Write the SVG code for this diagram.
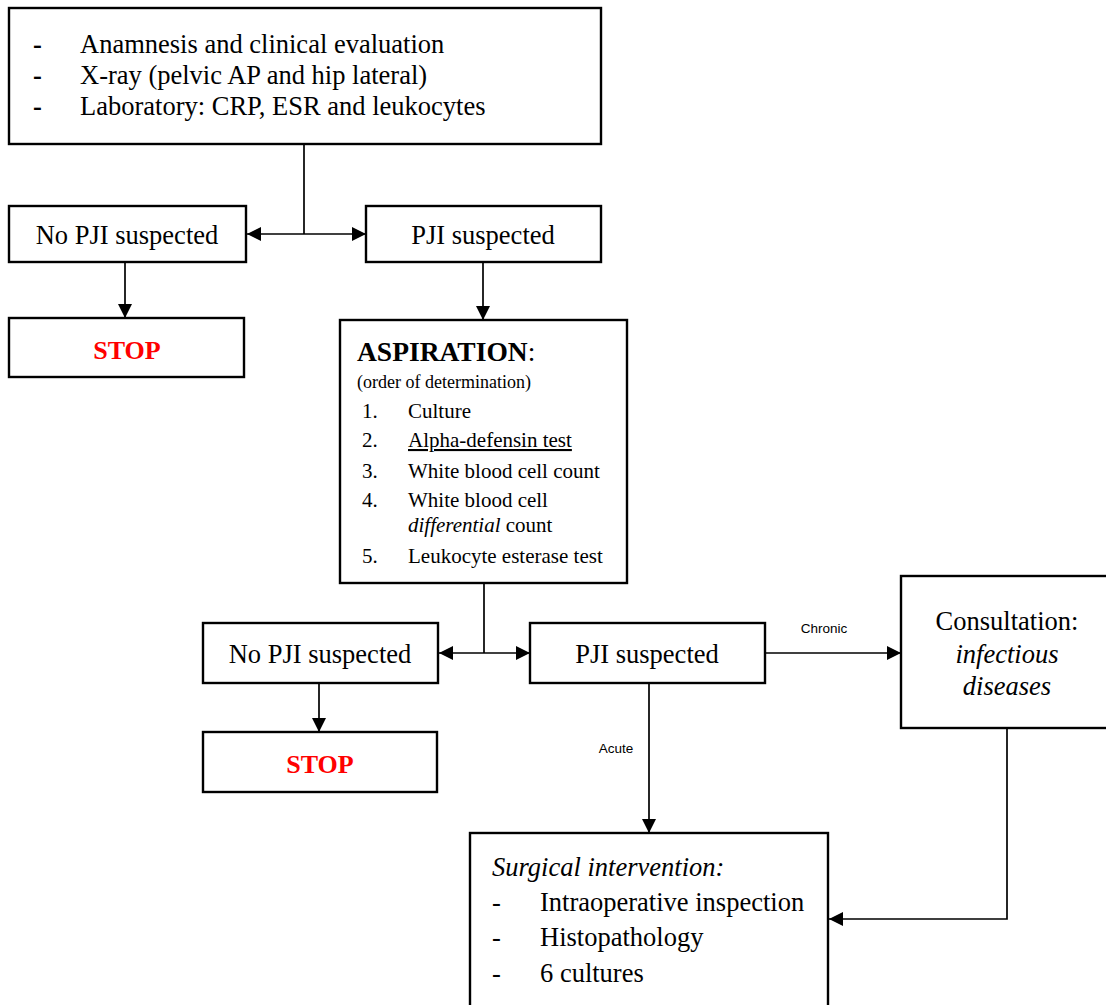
<svg xmlns="http://www.w3.org/2000/svg" width="1106" height="1005" viewBox="0 0 1106 1005">
<style>
.box{fill:#fff;stroke:#000;stroke-width:2.4}
.t{font-family:"Liberation Serif","Times New Roman",serif;fill:#000}
.big{font-size:26.5px}
.mid{font-size:21px}
.sm{font-size:18px}
.dash{font-size:26.5px;font-weight:bold}
.stop{font-size:26px;font-weight:bold;fill:#ff0000}
.lbl{font-family:"Liberation Sans",Arial,sans-serif;font-size:13.5px;fill:#000}
.c{fill:none;stroke:#000;stroke-width:1.7}
</style>
<defs>
<marker id="ah" viewBox="0 0 14 14" refX="14" refY="7" markerWidth="14" markerHeight="14" markerUnits="userSpaceOnUse" orient="auto">
<path d="M0,0 L14,7 L0,14 Z" fill="#000"/>
</marker>
</defs>
<g id="connectors">
<path class="c" d="M304,144 V234"/>
<path class="c" d="M304,234 H247" marker-end="url(#ah)"/>
<path class="c" d="M304,234 H366" marker-end="url(#ah)"/>
<path class="c" d="M125,262 V318" marker-end="url(#ah)"/>
<path class="c" d="M483,262 V320" marker-end="url(#ah)"/>
<path class="c" d="M484,583 V653"/>
<path class="c" d="M484,653 H439" marker-end="url(#ah)"/>
<path class="c" d="M484,653 H530" marker-end="url(#ah)"/>
<path class="c" d="M319,683 V732" marker-end="url(#ah)"/>
<path class="c" d="M765,653 H901" marker-end="url(#ah)"/>
<path class="c" d="M649,683 V833" marker-end="url(#ah)"/>
<path class="c" d="M1007,728 V919 H829" marker-end="url(#ah)"/>
<text class="lbl" x="824" y="633" text-anchor="middle">Chronic</text>
<text class="lbl" x="616" y="753" text-anchor="middle">Acute</text>
</g>
<g id="initial">
<rect class="box" x="9" y="8" width="592" height="136"/>
<text class="t dash" x="33" y="53">-</text>
<text class="t dash" x="33" y="84">-</text>
<text class="t dash" x="33" y="115">-</text>
<text class="t big" x="80" y="53">Anamnesis and clinical evaluation</text>
<text class="t big" x="80" y="84">X-ray (pelvic AP and hip lateral)</text>
<text class="t big" x="80" y="115">Laboratory: CRP, ESR and leukocytes</text>
</g>
<g id="nopji1">
<rect class="box" x="9" y="206" width="237" height="56"/>
<text class="t big" x="127" y="244" text-anchor="middle">No PJI suspected</text>
</g>
<g id="pji1">
<rect class="box" x="366" y="206" width="235" height="56"/>
<text class="t big" x="483" y="244" text-anchor="middle">PJI suspected</text>
</g>
<g id="stop1">
<rect class="box" x="9" y="318" width="235" height="59"/>
<text class="t stop" x="127" y="359" text-anchor="middle">STOP</text>
</g>
<g id="aspiration">
<rect class="box" x="340" y="320" width="287" height="263"/>
<text class="t" x="357" y="361" font-size="27.5" font-weight="bold">ASPIRATION<tspan font-weight="normal">:</tspan></text>
<text class="t sm" x="357" y="388">(order of determination)</text>
<text class="t mid" x="362" y="418">1.</text>
<text class="t mid" x="408" y="418">Culture</text>
<text class="t mid" x="362" y="447">2.</text>
<text class="t mid" x="408" y="447" text-decoration="underline">Alpha-defensin test</text>
<text class="t mid" x="362" y="478">3.</text>
<text class="t mid" x="408" y="478">White blood cell count</text>
<text class="t mid" x="362" y="507">4.</text>
<text class="t mid" x="408" y="507">White blood cell</text>
<text class="t mid" x="408" y="532"><tspan font-style="italic">differential</tspan> count</text>
<text class="t mid" x="362" y="563">5.</text>
<text class="t mid" x="408" y="563">Leukocyte esterase test</text>
</g>
<g id="nopji2">
<rect class="box" x="203" y="623" width="235" height="60"/>
<text class="t big" x="320" y="663" text-anchor="middle">No PJI suspected</text>
</g>
<g id="pji2">
<rect class="box" x="530" y="623" width="235" height="60"/>
<text class="t big" x="647" y="663" text-anchor="middle">PJI suspected</text>
</g>
<g id="stop2">
<rect class="box" x="203" y="732" width="234" height="60"/>
<text class="t stop" x="320" y="773" text-anchor="middle">STOP</text>
</g>
<g id="consultation">
<rect class="box" x="901" y="576" width="210" height="152"/>
<text class="t big" x="1007" y="630" text-anchor="middle">Consultation:</text>
<text class="t big" x="1007" y="663" text-anchor="middle" font-style="italic">infectious</text>
<text class="t big" x="1007" y="695" text-anchor="middle" font-style="italic">diseases</text>
</g>
<g id="surgical">
<rect class="box" x="470" y="833" width="358" height="180"/>
<text class="t big" x="492" y="876" font-style="italic">Surgical intervention:</text>
<text class="t big" x="492" y="911">-</text>
<text class="t big" x="540" y="911">Intraoperative inspection</text>
<text class="t big" x="492" y="946">-</text>
<text class="t big" x="540" y="946">Histopathology</text>
<text class="t big" x="492" y="982">-</text>
<text class="t big" x="540" y="982">6 cultures</text>
</g>
</svg>
